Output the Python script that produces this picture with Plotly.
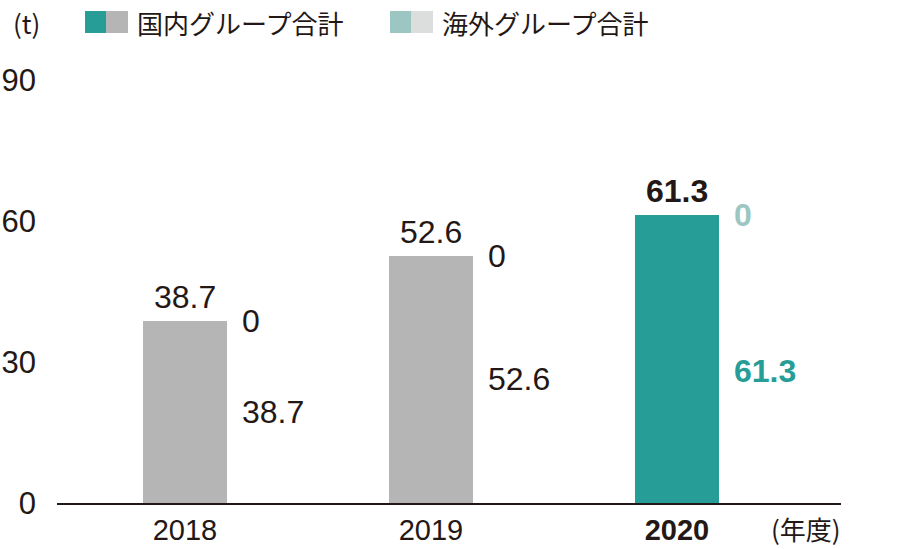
import plotly.graph_objects as go

# --- data ---
YEARS = ["2018", "2019", "2020"]
DOMESTIC = [38.7, 52.6, 61.3]   # 国内グループ合計
OVERSEAS = [0, 0, 0]            # 海外グループ合計
HIGHLIGHT = "2020"

TEAL = "#279D98"
GRAY = "#B5B5B5"
TEAL_LIGHT = "#9CC6C2"
GRAY_LIGHT = "#DCDDDD"
INK = "#231815"
FONT = "Liberation Sans, Noto Sans CJK JP, sans-serif"
JP_FONT = "Noto Sans CJK JP, sans-serif"

W, H = 920, 549
L, T = 57, 80
R = W - L - 784
B = H - T - 423
BAR_W = 0.34


# pixel -> paper coordinates
def px_x(p):
    return (p - L) / (W - L - R)


def px_y(p):
    return (H - B - p) / (H - T - B)


dom_colors = [TEAL if y == HIGHLIGHT else GRAY for y in YEARS]
ovs_colors = [TEAL_LIGHT if y == HIGHLIGHT else GRAY_LIGHT for y in YEARS]
xs = list(range(len(YEARS)))

fig = go.Figure()
fig.add_trace(go.Bar(x=xs, y=DOMESTIC, width=BAR_W, marker=dict(color=dom_colors, line_width=0),
                     name="国内グループ合計", hoverinfo="skip"))
fig.add_trace(go.Bar(x=xs, y=OVERSEAS, width=BAR_W, marker=dict(color=ovs_colors, line_width=0),
                     name="海外グループ合計", hoverinfo="skip"))

# --- labels ---
for i, year in enumerate(YEARS):
    hi = year == HIGHLIGHT
    total = DOMESTIC[i] + OVERSEAS[i]
    # total above bar
    fig.add_annotation(x=i, y=total, text=f"<b>{total:g}</b>" if hi else f"{total:g}",
                       showarrow=False, yanchor="bottom", yshift=4,
                       font=dict(size=32, color=INK, family=FONT))
    # overseas value at top right
    fig.add_annotation(x=i + BAR_W / 2, y=total, text=f"<b>{OVERSEAS[i]:g}</b>" if hi else f"{OVERSEAS[i]:g}",
                       showarrow=False, xanchor="left", yanchor="middle", xshift=13,
                       font=dict(size=32, color=TEAL_LIGHT if hi else INK, family=FONT))
    # domestic value at right, mid segment
    fig.add_annotation(x=i + BAR_W / 2, y=min(DOMESTIC[i] / 2, 28),
                       text=f"<b>{DOMESTIC[i]:g}</b>" if hi else f"{DOMESTIC[i]:g}",
                       showarrow=False, xanchor="left", yanchor="middle", xshift=13,
                       font=dict(size=32, color=TEAL if hi else INK, family=FONT))

# --- legend (custom two-colour swatches) ---
fig.add_annotation(xref="paper", yref="paper", x=px_x(11), y=px_y(22), text="(t)",
                   showarrow=False, xanchor="left", yanchor="middle",
                   font=dict(size=26, color=INK, family=JP_FONT))
for x0, c1, c2, label in [(85, TEAL, GRAY, "国内グループ合計"),
                          (390, TEAL_LIGHT, GRAY_LIGHT, "海外グループ合計")]:
    fig.add_shape(type="rect", xref="paper", yref="paper", x0=px_x(x0), x1=px_x(x0 + 21),
                  y0=px_y(33), y1=px_y(11), fillcolor=c1, line_width=0)
    fig.add_shape(type="rect", xref="paper", yref="paper", x0=px_x(x0 + 21), x1=px_x(x0 + 43),
                  y0=px_y(33), y1=px_y(11), fillcolor=c2, line_width=0)
    fig.add_annotation(xref="paper", yref="paper", x=px_x(x0 + 50), y=px_y(22), text=label,
                       showarrow=False, xanchor="left", yanchor="middle",
                       font=dict(size=26, color=INK, family=JP_FONT))

# unit for x axis
fig.add_annotation(xref="paper", yref="paper", x=px_x(843), y=px_y(528), text="(年度)",
                   showarrow=False, xanchor="right", yanchor="middle",
                   font=dict(size=26, color=INK, family=JP_FONT))

fig.update_layout(
    width=W, height=H,
    margin=dict(l=L, r=R, t=T, b=B),
    barmode="stack",
    showlegend=False,
    plot_bgcolor="white", paper_bgcolor="white",
    font=dict(family=FONT, color=INK),
    xaxis=dict(range=[-0.52, 2.667], tickvals=xs,
               ticktext=[f"<b>{y}</b>" if y == HIGHLIGHT else y for y in YEARS],
               tickfont=dict(size=29, color=INK), showgrid=False, zeroline=False,
               showline=True, linecolor=INK, linewidth=1.5, ticks="", ticklabelstandoff=0,
               automargin=False),
    yaxis=dict(range=[0, 90], tickvals=[0, 30, 60, 90], tickfont=dict(size=31, color=INK),
               showgrid=False, zeroline=False, showline=False, ticks="",
               ticklabelstandoff=20, automargin=False),
)

# drop the default 8px page margin so the figure sits at the window corner
fig.write_html("out.html", config={"displayModeBar": False},
               post_script="document.body.style.margin='0';")
